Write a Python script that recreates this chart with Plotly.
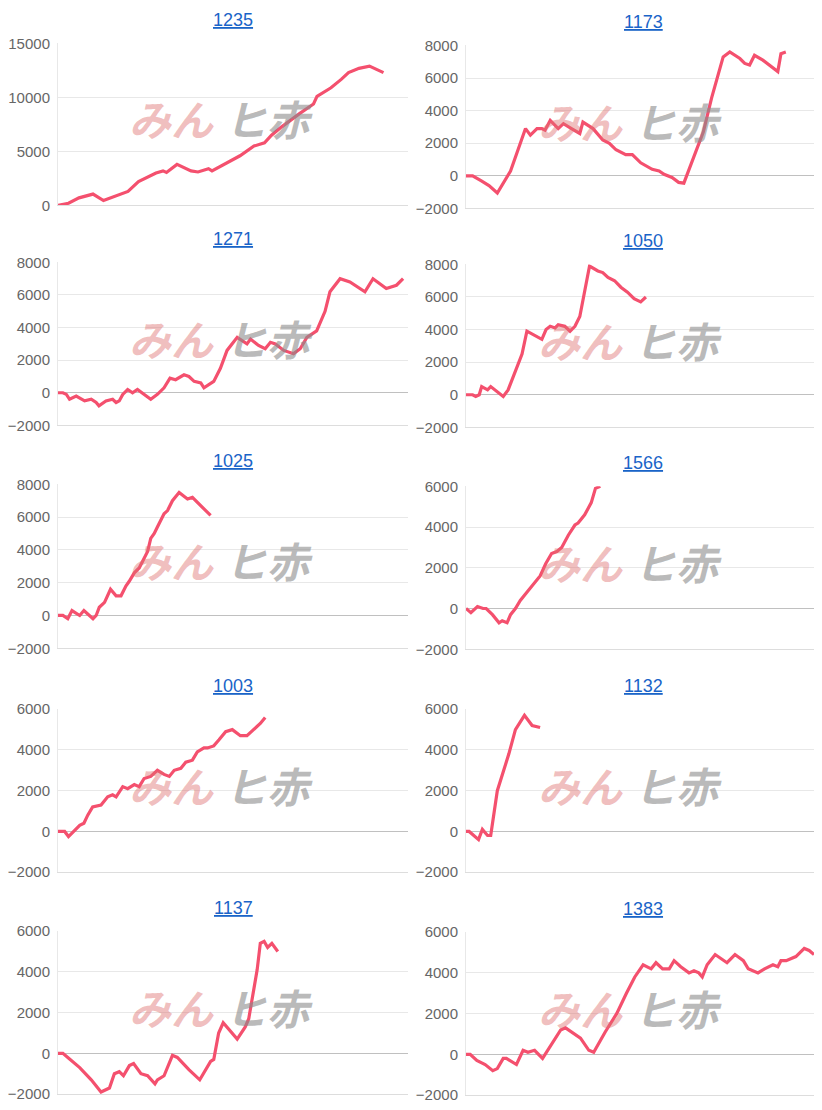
import plotly.graph_objects as go

titles = ["1235", "1173", "1271", "1050", "1025", "1566", "1003", "1132", "1137", "1383"]

x_1235 = [0,3,6,10,13,16,20,23,28,30,31,34,38,40,43,44,48,52,56,59,61,64,69,73,74,78,81,83,86,89,91,93]
y_1235 = [0,200,700,1050,450,800,1300,2200,3000,3200,3050,3800,3200,3100,3400,3200,3900,4600,5500,5800,6500,7300,8500,9400,10100,10900,11700,12300,12700,12900,12600,12300]

x_1173 = [0,1.9,4.3,6.6,9,12.8,17.1,18.5,20.4,21.8,22.7,24.2,26.5,28,30.3,32.7,33.6,36.5,39.3,41.2,43.1,45.9,47.8,50.2,53.5,55.5,56.9,59.2,61.1,62.6,68.2,70.6,73.9,75.8,78.7,80.1,81.5,82.9,85.3,89.6,90.5,91.9]
y_1173 = [0,0,-300,-600,-1050,300,2900,2500,2900,2900,2800,3400,2900,3200,2900,2600,3300,2900,2200,2000,1600,1300,1300,800,400,300,100,-100,-400,-450,2700,4800,7300,7600,7200,6900,6800,7400,7100,6400,7500,7600]

x_1271 = [0,1.4,2.4,3.3,5.2,7.6,9.5,10.9,11.7,13.7,15.6,16.6,17.5,18.5,19.9,21.3,22.7,24.6,26.5,28.4,30.3,32,33.6,36,37.4,38.9,40.8,41.7,44.5,46.4,48.3,51.2,54,55,57.3,59.2,60.7,62.1,64.5,67.3,69.2,71.1,73.9,76.3,77.7,80.6,83.4,87.7,90,93.8,96.7,98.6]
y_1271 = [0,0,-100,-400,-200,-500,-400,-600,-800,-500,-400,-600,-500,-100,200,0,200,-100,-400,-100,300,900,800,1100,1000,700,600,300,700,1500,2600,3400,3000,3300,2900,2700,3100,3000,2600,2400,2700,3400,3800,5000,6200,7000,6800,6200,7000,6400,6600,7000]

x_1050 = [0,1.9,2.8,3.8,4.5,6.2,7.1,9,10.7,12.1,13.3,14.7,16.1,17.5,19.4,21.8,23,24.2,25.6,26.5,28.4,29.9,31.3,32.7,35.5,37.9,39.3,40.8,42.7,44.5,46.4,48.3,50.2,51.7]
y_1050 = [0,0,-100,0,500,300,500,200,-100,300,1000,1700,2500,3900,3700,3400,4000,4200,4100,4300,4200,3900,4200,4800,7900,7600,7500,7200,7000,6600,6300,5900,5700,6000]

x_1025 = [0,1.4,2.8,4,6.2,7.4,10,10.9,11.8,13.3,15,16.6,18,19.4,20.4,21.8,23.2,25.6,26.5,27.5,28.4,30.3,31.3,32.7,34.6,37,38.4,40.3,43.6]
y_1025 = [0,0,-200,300,0,300,-200,0,500,800,1600,1200,1200,1800,2100,2600,2900,3900,4700,5000,5400,6200,6400,7000,7500,7100,7200,6800,6100]

x_1566 = [0,1.4,3.3,4.9,5.8,7.6,9.5,10.4,11.8,12.8,14.2,15.6,17.5,19.4,21.3,22.9,24.6,26.1,27.5,29.4,31.3,32.2,34.1,36,37.2,38.6]
y_1566 = [0,-200,100,0,0,-300,-700,-600,-700,-300,0,400,800,1200,1600,2200,2700,2800,3000,3600,4100,4200,4600,5200,5900,6000]

x_1003 = [0,1.9,3,4.5,6.2,7.4,8.5,9.9,12.3,14.2,15.6,16.6,18.5,19.9,21.8,23.2,24.6,26.5,28.4,30.3,31.8,33.2,35.1,36.5,38.4,39.8,41.7,42.7,44.5,46,47.9,49.8,52.1,54,55.9,57.8,59.2]
y_1003 = [0,0,-250,0,300,400,800,1200,1300,1700,1800,1700,2200,2100,2300,2200,2600,2700,3000,2800,2700,3000,3100,3400,3500,3900,4100,4100,4200,4500,4900,5000,4700,4700,5000,5300,5600]

x_1132 = [0,0.9,3.6,4.7,6.2,7.1,9,10.9,12.3,14.2,15.6,16.8,19,21.3]
y_1132 = [0,0,-400,100,-200,-200,2000,3000,3800,5000,5400,5700,5200,5100]

x_1137 = [0,1.4,2.8,6.2,9.5,12.3,14.7,16.1,17.5,18.7,20.4,21.6,23.7,25.6,27.7,28.4,30.3,32.7,34.1,37.4,40.5,43.6,44.5,45.9,47.2,51.2,53.5,54.5,56.9,57.8,58.9,59.9,61.1,62.8]
y_1137 = [0,0,-200,-700,-1300,-1900,-1700,-1000,-900,-1100,-600,-500,-1000,-1100,-1500,-1300,-1100,-100,-200,-800,-1300,-400,-300,1000,1500,700,1300,1700,4100,5400,5500,5200,5400,5000]

x_1383 = [0,1.2,3.1,5.5,7.7,9,10.7,11.6,14.5,16.4,17.8,19.7,22,23.9,27.2,28.6,31,32.9,35.3,36.7,40,43.3,46.1,48.5,50.9,53.2,54.6,56.5,58.4,59.8,61.7,64.1,65.5,66.9,67.9,69.3,71.6,75,77.3,79.7,81.1,83.9,85.8,88.2,89.6,90.5,92,94.8,97.2,98.6,100]
y_1383 = [0,0,-300,-500,-800,-700,-200,-200,-500,200,100,200,-200,300,1200,1300,1000,800,200,100,1100,2000,3000,3800,4400,4200,4500,4200,4200,4600,4300,4000,4100,4000,3800,4400,4900,4500,4900,4600,4200,4000,4200,4400,4300,4600,4600,4800,5200,5100,4900]

series = [(x_1235, y_1235), (x_1173, y_1173), (x_1271, y_1271), (x_1050, y_1050), (x_1025, y_1025),
          (x_1566, y_1566), (x_1003, y_1003), (x_1132, y_1132), (x_1137, y_1137), (x_1383, y_1383)]
y_ranges = [[0, 15000], [-2000, 8000], [-2000, 8000], [-2000, 8000], [-2000, 8000],
            [-2000, 6000], [-2000, 6000], [-2000, 6000], [-2000, 6000], [-2000, 6000]]
y_dticks = [5000, 2000, 2000, 2000, 2000, 2000, 2000, 2000, 2000, 2000]

OFF = 8
W, H = 822 - 2 * OFF, 1110 - 2 * OFF + 12
col_px = [(58, 408), (466, 820)]
row_px = [[(43, 205), (45, 208)], [(262, 425), (264, 427)], [(484, 648), (486, 649)],
          [(709, 872), (709, 872)], [(931, 1094), (932, 1095)]]


def vy(y):
    return (y - 16.5) / 0.985


fig = go.Figure()
annotations = []
for i, ((xs, ys), title) in enumerate(zip(series, titles)):
    r, c = divmod(i, 2)
    n = "" if i == 0 else str(i + 1)
    x0, x1 = [v - OFF for v in col_px[c]]
    t, b = [vy(v) for v in row_px[r][c]]
    xd = [x0 / W, min(x1 / W, 1)]
    yd = [max(1 - b / H, 0), 1 - t / H]
    fig.add_trace(go.Scatter(x=xs, y=ys, mode="lines", xaxis="x" + n, yaxis="y" + n,
                             line=dict(color="#f4506e", width=3.2), hoverinfo="skip", showlegend=False))
    fig.layout["xaxis" + n] = dict(domain=xd, range=[0, 100], anchor="y" + n, showticklabels=False,
                                   showgrid=False, zeroline=False, showline=True, linecolor="#dddddd",
                                   linewidth=1, fixedrange=True)
    fig.layout["yaxis" + n] = dict(domain=yd, range=y_ranges[i], dtick=y_dticks[i], anchor="x" + n,
                                   tickformat="d",
                                   showgrid=True, gridcolor="#e8e8e8", zeroline=True, zerolinecolor="#c0c0c0",
                                   zerolinewidth=1, showline=True, linecolor="#e8e8e8",
                                   tickfont=dict(family="Arial, Liberation Sans", size=15, color="#666666"),
                                   ticks="", ticklabelstandoff=4, fixedrange=True)
    cx = (x0 + x1) / 2 / W
    ty = vy(row_px[r][c][0] - 23)
    annotations.append(dict(text="<u>" + title + "</u>", x=cx, y=1 - ty / H, xref="paper", yref="paper",
                            xanchor="center", yanchor="middle",
                            showarrow=False, font=dict(family="Arial, Liberation Sans", size=18, color="#1a64c8")))
    wy = 1 - (t + (b - t) * 0.46) / H
    annotations.append(dict(text="<b><i>みん</i></b>", x=(x0 + 0.45 * (x1 - x0)) / W, y=wy, xref="paper",
                            yref="paper", xanchor="right", yanchor="middle", showarrow=False,
                            font=dict(family="Noto Sans CJK JP", size=42, color="rgba(222,110,110,0.45)")))
    annotations.append(dict(text="<b><i>ヒ赤</i></b>", x=(x0 + 0.47 * (x1 - x0)) / W, y=wy, xref="paper",
                            yref="paper", xanchor="left", yanchor="middle", showarrow=False,
                            font=dict(family="Noto Sans CJK JP", size=42, color="rgba(140,140,140,0.6)")))

fig.update_layout(width=W, height=H, margin=dict(l=0, r=0, t=0, b=0), paper_bgcolor="white",
                  plot_bgcolor="white", annotations=annotations, showlegend=False)
fig.write_html("out.html")
